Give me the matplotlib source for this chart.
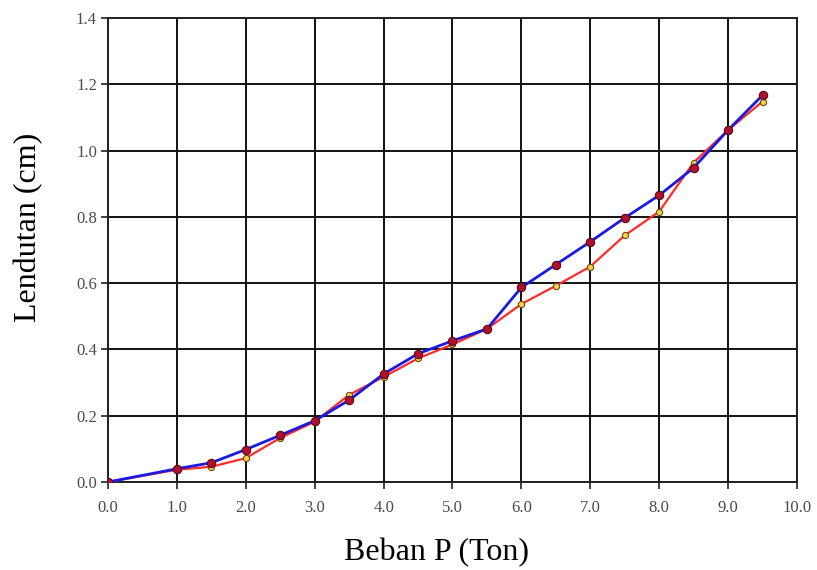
import matplotlib
matplotlib.use("Agg")
import matplotlib.pyplot as plt
import numpy as np

# load (ton)
beban = [0.0, 1.0, 1.5, 2.0, 2.5, 3.0, 3.5, 4.0, 4.5, 5.0,
         5.5, 6.0, 6.5, 7.0, 7.5, 8.0, 8.5, 9.0, 9.5]

# deflection (cm), blue series with red dots
lendutan_biru = [0.0, 0.040, 0.058, 0.098, 0.141, 0.185, 0.247, 0.326, 0.387, 0.426,
                 0.462, 0.587, 0.656, 0.725, 0.797, 0.865, 0.948, 1.062, 1.167]

# deflection (cm), red series with yellow dots
lendutan_merah = [0.0, 0.037, 0.046, 0.072, 0.133, 0.182, 0.263, 0.317, 0.373, 0.415,
                  0.462, 0.537, 0.592, 0.650, 0.744, 0.816, 0.964, 1.062, 1.148]

x_ticks = np.arange(0, 10.01, 1.0)
y_ticks = np.arange(0, 1.401, 0.2)

fig = plt.figure(figsize=(8.17, 5.70), dpi=100)
ax = fig.add_axes([0.1322, 0.1544, 0.8433, 0.8140])

ax.plot(beban, lendutan_merah, color="#ff2a2a", lw=1.6, zorder=3,
        marker="o", ms=4.5, mfc="#f2d24a", mec="#6b4a10", mew=0.8)
ax.plot(beban, lendutan_biru, color="#1a1ae0", lw=2.0, zorder=4,
        marker="o", ms=6, mfc="#b01030", mec="#5a0a10", mew=0.8)

ax.set_xlim(0, 10)
ax.set_ylim(0, 1.4)
ax.set_xticks(x_ticks)
ax.set_yticks(y_ticks)
ax.set_xticklabels([f"{v:.1f}" for v in x_ticks])
ax.set_yticklabels([f"{v:.1f}" for v in y_ticks])

ax.grid(True, color="#111111", lw=1.4, zorder=1)
ax.set_axisbelow(True)
for s in ax.spines.values():
    s.set_color("#222222")
    s.set_linewidth(1.4)

ax.tick_params(direction="out", length=5, width=1.2, color="#222222",
               labelsize=12, labelcolor="#4a4a4a")
ax.tick_params(axis="y", pad=3)
ax.tick_params(axis="x", pad=8)
for lab in ax.get_xticklabels() + ax.get_yticklabels():
    lab.set_family("Liberation Serif")

# axis titles placed in figure coords
fig.text(437 / 817, 1 - 553 / 570, "Beban P (Ton)", family="Liberation Serif",
         fontsize=23, ha="center", va="center")
fig.text(29 / 817, 1 - 227 / 570, "Lendutan (cm)", family="Liberation Serif",
         fontsize=23, ha="center", va="center", rotation=90)

fig.savefig("out.png", dpi=100)
